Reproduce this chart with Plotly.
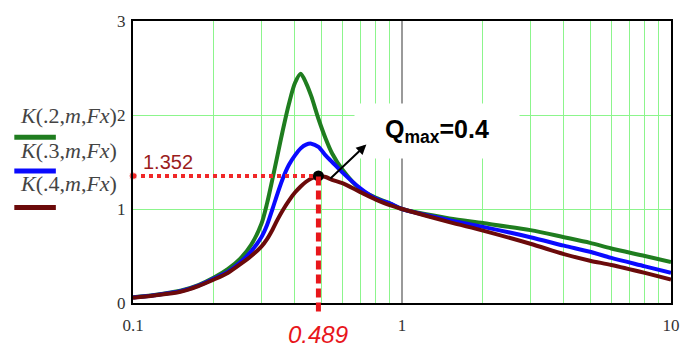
import math
import plotly.graph_objects as go

# ---- data ----
fx = [0.1, 0.12, 0.15, 0.175, 0.2, 0.225, 0.25, 0.275, 0.3, 0.315, 0.33, 0.345, 0.36, 0.38, 0.4,
      0.42, 0.44, 0.46, 0.489, 0.52, 0.55, 0.6, 0.7, 0.8, 0.9, 1.0, 1.5, 2, 3, 4, 5, 6, 8, 10]
k_q02 = [0.06, 0.085, 0.13, 0.19, 0.27, 0.36, 0.47, 0.62, 0.84, 1.06, 1.32, 1.58, 1.83, 2.12, 2.34,
         2.44, 2.34, 2.20, 1.96, 1.75, 1.59, 1.42, 1.21, 1.12, 1.06, 1.00, 0.90, 0.85, 0.775, 0.70,
         0.64, 0.58, 0.50, 0.435]
k_q03 = [0.058, 0.083, 0.125, 0.185, 0.26, 0.33, 0.43, 0.55, 0.70, 0.83, 1.00, 1.17, 1.32, 1.47, 1.57,
         1.645, 1.685, 1.695, 1.66, 1.57, 1.50, 1.39, 1.22, 1.11, 1.06, 1.00, 0.88, 0.81, 0.70, 0.61,
         0.545, 0.48, 0.39, 0.32]
k_q04 = [0.055, 0.08, 0.12, 0.18, 0.25, 0.32, 0.41, 0.50, 0.60, 0.68, 0.78, 0.89, 0.985, 1.09, 1.175,
         1.24, 1.29, 1.325, 1.352, 1.34, 1.31, 1.275, 1.18, 1.10, 1.04, 1.00, 0.86, 0.77, 0.63, 0.52,
         0.45, 0.405, 0.32, 0.25]
series_q = [".2", ".3", ".4"]
series_colors = ["#1f7d1f", "#0a0aff", "#6b0a0a"]

peak_x = 0.489
peak_y = 1.352
q_label = "Q<sub>max</sub>=0.4"

x_tick_vals = [0.1, 1, 10]
x_tick_text = ["0.1", "1", "10"]
y_tick_vals = [0, 1, 2, 3]
y_tick_text = ["0", "1", "2", "3"]
x_minor = [d * 10 ** e for e in (-1, 0) for d in range(2, 10)]

grid_green = "#8cf58c"
serif = "Liberation Serif"
sans = "Liberation Sans"
lg = math.log10

fig = go.Figure()

for ys, q, col in zip([k_q02, k_q03, k_q04], series_q, series_colors):
    fig.add_trace(go.Scatter(x=fx, y=ys, mode="lines", name="K(" + q + ",m,Fx)",
                             line=dict(color=col, width=4, shape="spline", smoothing=0.8),
                             showlegend=False, hoverinfo="skip"))

# red dotted horizontal guide
fig.add_trace(go.Scatter(x=[x_tick_vals[0], peak_x], y=[peak_y, peak_y], mode="lines+markers",
                         line=dict(color="#f02828", width=4, dash="4px,4px"),
                         marker=dict(size=[8, 0], color="#f02828"),
                         showlegend=False, hoverinfo="skip", cliponaxis=False))

# red dashed vertical guide (extends slightly below axis)
fig.add_shape(type="line", xref="x", yref="paper", x0=peak_x, x1=peak_x,
              y0=-0.03, y1=peak_y / y_tick_vals[-1],
              line=dict(color="#e8161b", width=5, dash="9px,5px"))

# black marker at peak
fig.add_trace(go.Scatter(x=[peak_x], y=[peak_y], mode="markers",
                         marker=dict(size=11, color="black"),
                         showlegend=False, hoverinfo="skip", cliponaxis=False))

# value labels
fig.add_annotation(x=lg(0.1), y=peak_y, xref="x", yref="y", text="1.352", showarrow=False,
                   xanchor="left", xshift=8, yshift=14,
                   font=dict(family=sans, size=20, color="#9b1c1c"))
fig.add_annotation(x=lg(peak_x), y=0, xref="x", yref="y", text="<i>0.489</i>", showarrow=False,
                   font=dict(family=sans, size=24, color="#e8161b"), yshift=-31)

# Qmax label with white box
fig.add_annotation(x=lg(1.345), y=1.83, xref="x", yref="y", text="<b>" + q_label + "</b>",
                   showarrow=False, bgcolor="white", width=160, height=50, borderpad=2,
                   font=dict(family=sans, size=25, color="black"))
# arrow
fig.add_annotation(x=lg(0.737), y=1.686, ax=lg(0.535), ay=1.31, xref="x", yref="y",
                   axref="x", ayref="y", text="", showarrow=True, arrowhead=2, arrowsize=1,
                   arrowwidth=2, arrowcolor="black")

# custom legend (text above coloured bar)
leg_y_text = [0.6656, 0.5423, 0.4224]
leg_y_bar = [0.5878, 0.4682, 0.339]
for q, col, yt, yb in zip(series_q, series_colors, leg_y_text, leg_y_bar):
    txt = "<i>K</i>(" + q + ",<i>m</i>,<i>Fx</i>)"
    fig.add_annotation(x=-0.2145, y=yt, xref="paper", yref="paper", text=txt, showarrow=False,
                       xanchor="left", yanchor="middle",
                       font=dict(family=serif, size=22, color="#444444"))
    fig.add_shape(type="line", xref="paper", yref="paper", x0=-0.2206, x1=-0.1434, y0=yb, y1=yb,
                  line=dict(color=col, width=5))

fig.update_layout(
    width=692, height=347,
    margin=dict(l=133, r=15, t=13, b=42),
    paper_bgcolor="white", plot_bgcolor="white",
    xaxis=dict(type="log", range=[-1, 1], tickmode="array", tickvals=x_tick_vals, ticktext=x_tick_text,
               showgrid=True, gridcolor="#9a9a9a", gridwidth=1.5,
               minor=dict(tickvals=x_minor, showgrid=True, gridcolor=grid_green, gridwidth=1, ticks=""),
               showline=True, mirror=True, linecolor="black", linewidth=2, ticks="",
               ticklabelstandoff=6,
               tickfont=dict(family=serif, size=17, color="#333333"), zeroline=False),
    yaxis=dict(range=[0, 3], tickmode="array", tickvals=y_tick_vals, ticktext=y_tick_text,
               showgrid=True, gridcolor=grid_green, gridwidth=1,
               showline=True, mirror=True, linecolor="black", linewidth=2, ticks="",
               ticklabelstandoff=2,
               tickfont=dict(family=serif, size=17, color="#333333"), zeroline=False),
)

fig.write_html("out.html")
